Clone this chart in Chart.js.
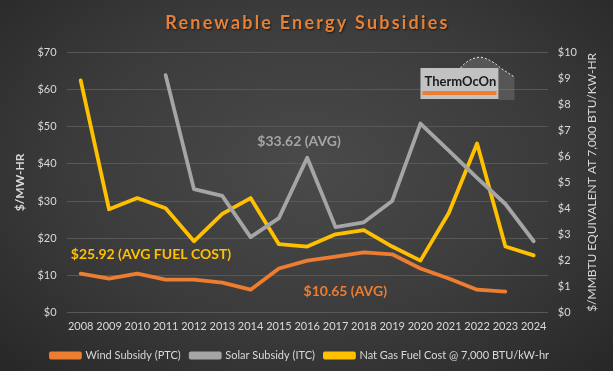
<!DOCTYPE html>
<html>
<head>
<meta charset="utf-8">
<script src="https://cdn.jsdelivr.net/npm/chart.js@4.4.1/dist/chart.umd.min.js"></script>
<style>
  html, body { margin: 0; padding: 0; }
  body {
    width: 613px; height: 371px; overflow: hidden;
    background: radial-gradient(ellipse at 50% 45%, #4a4a4a 0%, #3b3b3b 55%, #272727 100%);
  }
  #wrap { position: relative; width: 613px; height: 371px; }
</style>
</head>
<body>
<div id="wrap"><canvas id="subsidyChart"></canvas></div>
<script>
const years = ['2008', '2009', '2010', '2011', '2012', '2013', '2014', '2015', '2016',
               '2017', '2018', '2019', '2020', '2021', '2022', '2023', '2024'];

// $/MW-hr (left axis)
const windSubsidy = [10.5, 9.2, 10.5, 8.9, 8.9, 8.1, 6.2, 11.9, 14.0, 15.1, 16.2, 15.7, 11.9, 9.2, 6.2, 5.7, null];
const solarSubsidy = [null, null, null, 63.8, 33.2, 31.4, 20.3, 25.4, 41.6, 23.0, 24.3, 30.0, 50.8, 43.5, 36.2, 29.2, 19.2];

// $/MMBTU (right axis)
const gasFuelCost = [8.91, 3.97, 4.40, 4.01, 2.74, 3.79, 4.40, 2.63, 2.54, 3.01, 3.17, 2.54, 2.00, 3.83, 6.49, 2.54, 2.20];

const seriesNames = ['Wind Subsidy (PTC)', 'Solar Subsidy (ITC)', 'Nat Gas Fuel Cost @ 7,000 BTU/kW-hr'];
const avgLabels = ['$33.62 (AVG)', '$25.92 (AVG FUEL COST)', '$10.65 (AVG)'];
const chartTitle = 'Renewable Energy Subsidies';
const rightTitle = '$/MMBTU EQUIVALENT AT 7,000 BTU/KW-HR';

const ORANGE = '#ED7D31';
const GRAY = '#A5A5A5';
const YELLOW = '#FFC000';
const TEXT = '#D9D9D9';
const FONT = 'Lato, "Open Sans", sans-serif';

// title, right axis title, average labels and logo
const overlay = {
    id: 'overlay',
    afterDraw(chart) {
        const ctx = chart.ctx;
        const x = chart.scales.x;
        const y = chart.scales.y;
        const pos = (i) => x.getPixelForValue(0) + i * (x.getPixelForValue(1) - x.getPixelForValue(0));

        ctx.save();
        // chart title, spaced out a bit
        ctx.font = 'bold 18px ' + FONT;
        ctx.textAlign = 'center';
        ctx.textBaseline = 'alphabetic';
        ctx.letterSpacing = '2.2px';
        ctx.shadowColor = 'rgba(0,0,0,0.6)';
        ctx.shadowOffsetX = 1;
        ctx.shadowOffsetY = 1;
        ctx.shadowBlur = 2;
        ctx.fillStyle = '#E48137';
        ctx.fillText(chartTitle, chart.width / 2 + 1, 29);
        ctx.restore();

        ctx.save();
        // right axis title reads bottom to top
        ctx.translate(chart.width - 21, (chart.chartArea.top + chart.chartArea.bottom) / 2);
        ctx.rotate(-Math.PI / 2);
        ctx.font = '12px ' + FONT;
        ctx.fillStyle = TEXT;
        ctx.textAlign = 'center';
        ctx.textBaseline = 'middle';
        ctx.fillText(rightTitle, 0, 0);
        ctx.restore();

        ctx.save();
        ctx.font = 'bold 14px ' + FONT;
        ctx.textBaseline = 'middle';
        ctx.textAlign = 'left';
        ctx.fillStyle = GRAY;
        ctx.fillText(avgLabels[0], pos(6.24), y.getPixelForValue(45.9));
        ctx.fillStyle = YELLOW;
        ctx.fillText(avgLabels[1], pos(-0.35), y.getPixelForValue(15.7));
        ctx.fillStyle = ORANGE;
        ctx.fillText(avgLabels[2], pos(7.87), y.getPixelForValue(5.7));

        // ThermOcOn logo
        const lx = pos(12.0), ly = y.getPixelForValue(65.7);
        ctx.fillStyle = 'rgba(150,150,150,0.3)';
        ctx.beginPath();
        ctx.moveTo(lx + 40, ly);
        ctx.quadraticCurveTo(lx + 48, ly - 10, lx + 60, ly - 11);
        ctx.quadraticCurveTo(lx + 72, ly - 8, lx + 80, ly);
        ctx.lineTo(lx + 94, ly + 9);
        ctx.lineTo(lx + 94, ly + 32);
        ctx.lineTo(lx + 78, ly + 32);
        ctx.lineTo(lx + 78, ly);
        ctx.closePath();
        ctx.fill();
        ctx.strokeStyle = '#F0F0F0';
        ctx.setLineDash([2, 2]);
        ctx.lineWidth = 1;
        ctx.beginPath();
        ctx.moveTo(lx + 40, ly);
        ctx.quadraticCurveTo(lx + 48, ly - 10, lx + 60, ly - 11);
        ctx.quadraticCurveTo(lx + 72, ly - 8, lx + 80, ly);
        ctx.lineTo(lx + 94, ly + 9);
        ctx.stroke();
        ctx.setLineDash([]);
        ctx.fillStyle = '#C2C2C2';
        ctx.fillRect(lx, ly, 78, 31);
        ctx.fillStyle = '#1C1C1C';
        ctx.font = 'bold 13px ' + FONT;
        ctx.textBaseline = 'alphabetic';
        ctx.fillText('ThermOcOn', lx + 4, ly + 18);
        ctx.fillStyle = ORANGE;
        ctx.fillRect(lx + 2, ly + 23, 74, 4);
        ctx.restore();
    }
};

let ctx = document.getElementById('subsidyChart').getContext('2d');

let subsidyChart = new Chart(ctx, {
    type: 'line',
    data: {
        labels: years,
        datasets: [{
            label: seriesNames[0],
            data: windSubsidy,
            borderColor: ORANGE,
            backgroundColor: ORANGE,
            yAxisID: 'y'
        }, {
            label: seriesNames[1],
            data: solarSubsidy,
            borderColor: GRAY,
            backgroundColor: GRAY,
            yAxisID: 'y'
        }, {
            label: seriesNames[2],
            data: gasFuelCost,
            borderColor: YELLOW,
            backgroundColor: YELLOW,
            yAxisID: 'y1'
        }]
    },
    options: {
        responsive: true,
        maintainAspectRatio: false,
        animation: false,
        elements: {
            line: { borderWidth: 3.8, tension: 0, borderCapStyle: 'round', borderJoinStyle: 'round' },
            point: { radius: 0 }
        },
        layout: { padding: { left: 13, right: 26, top: 52, bottom: 0 } },
        scales: {
            x: {
                offset: true,
                grid: { display: false, drawTicks: false },
                border: { display: false },
                ticks: { color: TEXT, font: { family: FONT, size: 11 }, padding: 7, maxRotation: 0, autoSkip: false }
            },
            y: {
                position: 'left',
                min: 0,
                max: 70,
                ticks: { stepSize: 10, color: TEXT, font: { family: FONT, size: 11 }, padding: 10, callback: (v) => '$' + v },
                grid: { color: '#585858', lineWidth: 1, drawTicks: false },
                border: { display: false },
                title: { display: true, text: '$/MW-HR', color: TEXT, font: { family: FONT, size: 12, weight: 'bold' }, padding: 0 }
            },
            y1: {
                position: 'right',
                min: 0,
                max: 10,
                ticks: { stepSize: 1, color: TEXT, font: { family: FONT, size: 11 }, padding: 10, callback: (v) => '$' + v },
                grid: { drawOnChartArea: false, drawTicks: false },
                border: { display: false }
            }
        },
        plugins: {
            title: { display: false },
            legend: {
                position: 'bottom',
                labels: {
                    color: TEXT,
                    font: { family: FONT, size: 11 },
                    boxWidth: 29,
                    boxHeight: 4,
                    padding: 10
                }
            },
            tooltip: { enabled: false }
        }
    },
    plugins: [overlay]
});
</script>
</body>
</html>
